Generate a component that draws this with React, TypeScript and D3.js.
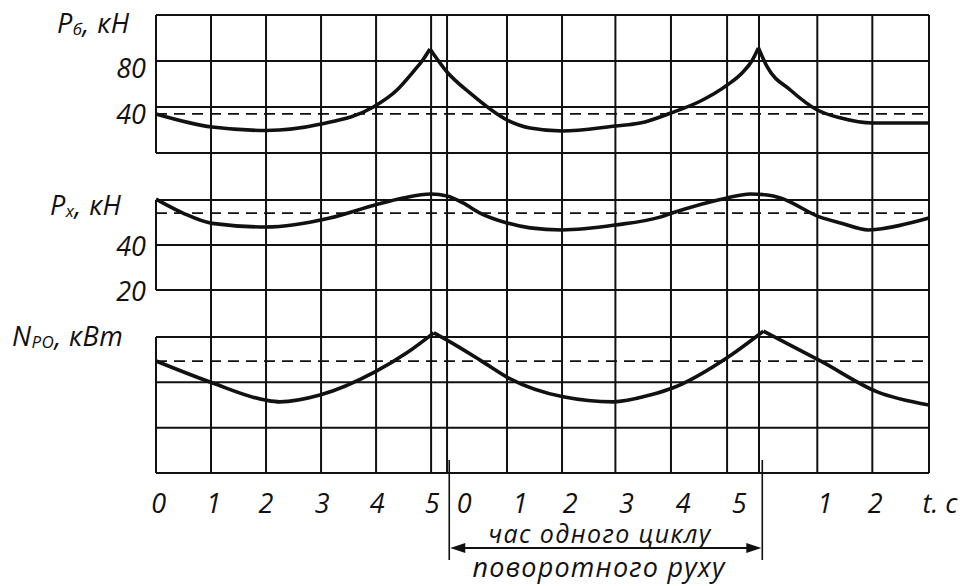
import * as d3 from 'd3';
import React from 'react';

// vertical grid lines, seconds on one continuous time axis
const gridTimes = [0, 1, 2, 3, 4, 5, 5.29, 6.38, 7.38, 8.35, 9.36, 10.38, 10.96, 12.02, 13.02, 14.05];

// time axis labels
const tickText = ['0', '1', '2', '3', '4', '5', '0', '1', '2', '3', '4', '5', '1', '2', 't. c'];
const tickTimes = [0.05, 1.05, 2.0, 3.02, 4.02, 5.02, 5.6, 6.62, 7.53, 8.55, 9.58, 10.6, 12.16, 13.07, 14.25];

// P_б, kN
const pbTimes = [0, 1.02, 2.0, 3.0, 3.95, 4.38, 4.67, 4.85, 4.98, 5.29, 5.71, 6.38, 6.8, 7.38, 8.35, 8.8, 9.36, 9.89, 10.38, 10.67, 10.83, 10.95, 11.11, 11.53, 12.02, 12.45, 13.02, 14.05];
const pbValues = [34, 22.6, 19.6, 25.2, 40, 54.8, 70.4, 80.9, 90.4, 70.4, 52, 28.7, 21.7, 19.1, 23.5, 26, 34.8, 45, 59, 70.5, 80, 91.3, 74.8, 54.8, 37.4, 30.4, 26.1, 26.1];
const pbMean = 34;
const pbGrid = [0, 40, 80, 120];
const pbTicks = [80, 40];

// P_x, kN
const pxTimes = [0, 0.49, 1.02, 2.0, 3.16, 3.98, 4.49, 5.0, 5.29, 5.58, 5.89, 6.38, 6.8, 7.38, 8.35, 9.16, 9.38, 10.38, 10.8, 11.11, 11.35, 12.07, 12.44, 12.95, 13.11, 14.05];
const pxValues = [60.4, 54.2, 49.6, 48, 52, 57.8, 60.9, 62.7, 61.8, 58.7, 54.2, 49.8, 47.6, 46.7, 48.9, 52.4, 54.2, 60.9, 62.7, 62.2, 60.9, 52.4, 49.8, 46.7, 47, 52];
const pxMean = 54.2;
const pxGrid = [20, 40, 60];
const pxTicks = [40, 20];

// N_PO, kW (no scale printed)
const nTimes = [0, 1.02, 1.98, 2.25, 2.98, 3.98, 4.56, 5.05, 5.29, 5.89, 6.4, 7.4, 8.31, 8.98, 9.4, 10.4, 11.04, 12.11, 13.11, 14.05];
const nValues = [2.47, 1.99, 1.61, 1.57, 1.72, 2.23, 2.65, 3.09, 2.93, 2.49, 2.1, 1.68, 1.57, 1.72, 1.88, 2.56, 3.13, 2.45, 1.79, 1.5];
const nMean = 2.47;
const nGrid = [0, 1, 2, 3];

// one swing cycle
const cycleStart = 5.33;
const cycleEnd = 11.02;

const W = 967;
const H = 586;
const FONT = '"Open Sans", "DejaVu Sans", sans-serif';
const INK = '#111';

const x = d3.scaleLinear().domain([0, 14.05]).range([156, 929]);

// split a series at its cusps so the peaks stay sharp
const segments = (times: number[], values: number[], cusps: number[]) => {
  const pts = times.map((t, i) => [t, values[i]] as [number, number]);
  if (!cusps.length) return [pts];
  const out: [number, number][][] = [];
  let start = 0;
  cusps.forEach((c) => {
    out.push(pts.slice(start, c + 1));
    start = c;
  });
  out.push(pts.slice(start));
  return out;
};

const panels = [
  {
    y: d3.scaleLinear().domain([0, 120]).range([153, 15]),
    grid: pbGrid, ticks: pbTicks, tickDy: 17,
    times: pbTimes, values: pbValues, mean: pbMean, cusps: [8, 21],
  },
  {
    y: d3.scaleLinear().domain([20, 60]).range([290, 200]),
    grid: pxGrid, ticks: pxTicks, tickDy: 11,
    times: pxTimes, values: pxValues, mean: pxMean, cusps: [] as number[],
  },
  {
    y: d3.scaleLinear().domain([0, 3]).range([473, 337]),
    grid: nGrid, ticks: [] as number[], tickDy: 0,
    times: nTimes, values: nValues, mean: nMean, cusps: [7, 16],
  },
];

const App = () => {
  const gridTop = panels[0].y(120);
  const gridBottom = panels[2].y(0);
  const arrowY = 548;
  const xs = x(cycleStart);
  const xe = x(cycleEnd);

  return (
    <svg width={W} height={H} style={{ position: 'absolute', left: 0, top: 0, background: '#fff' }}
      fontFamily={FONT} fontStyle="italic" fill={INK}>
      {/* vertical grid lines, full height except the left border */}
      {gridTimes.slice(1).map((t) => (
        <line key={'v' + t} x1={x(t)} x2={x(t)} y1={gridTop} y2={gridBottom} stroke={INK} strokeWidth={2} />
      ))}

      {panels.map((p, i) => {
        const line = d3.line<[number, number]>()
          .x((d) => x(d[0]))
          .y((d) => p.y(d[1]))
          .curve(d3.curveMonotoneX);
        const [lo, hi] = p.y.domain();
        return (
          <g key={i}>
            <line x1={x(0)} x2={x(0)} y1={p.y(hi)} y2={p.y(lo)} stroke={INK} strokeWidth={2} />
            {p.grid.map((v) => (
              <line key={v} x1={x(0)} x2={x(14.05)} y1={p.y(v)} y2={p.y(v)} stroke={INK} strokeWidth={2} />
            ))}
            <line x1={x(0)} x2={x(14.05)} y1={p.y(p.mean)} y2={p.y(p.mean)}
              stroke={INK} strokeWidth={1.8} strokeDasharray="11 7" />
            {segments(p.times, p.values, p.cusps).map((s, j) => (
              <path key={j} d={line(s) || ''} fill="none" stroke={INK} strokeWidth={3.6} strokeLinejoin="round" />
            ))}
            {p.ticks.map((v) => (
              <text key={v} x={146} y={p.y(v) + p.tickDy} fontSize={27} textAnchor="end">{v}</text>
            ))}
          </g>
        );
      })}

      {/* axis titles */}
      <text x={57} y={33} fontSize={27} letterSpacing={0.5}>P<tspan fontSize={17} dy={2}>б</tspan><tspan dy={-2}>, кН</tspan></text>
      <text x={50} y={215} fontSize={27} letterSpacing={0.5}>P<tspan fontSize={17} dy={2}>x</tspan><tspan dy={-2}>, кН</tspan></text>
      <text x={12} y={346} fontSize={27} letterSpacing={0.5}>N<tspan fontSize={17} dy={2}>PO</tspan><tspan dy={-2}>, кВт</tspan></text>

      {/* time labels */}
      {tickText.map((s, i) => (
        <text key={i} x={x(tickTimes[i])} y={513} fontSize={27} textAnchor="middle">{s}</text>
      ))}

      {/* cycle duration */}
      <line x1={xs} x2={xs} y1={460} y2={560} stroke={INK} strokeWidth={1.6} />
      <line x1={xe} x2={xe} y1={460} y2={560} stroke={INK} strokeWidth={1.6} />
      <line x1={xs + 4} x2={xe - 4} y1={arrowY} y2={arrowY} stroke={INK} strokeWidth={1.8} />
      <path d={`M${xs + 1},${arrowY} L${xs + 16},${arrowY - 5} L${xs + 16},${arrowY + 5} Z`} fill={INK} />
      <path d={`M${xe - 1},${arrowY} L${xe - 16},${arrowY - 5} L${xe - 16},${arrowY + 5} Z`} fill={INK} />
      <text x={600} y={543} fontSize={25} letterSpacing={1.4} textAnchor="middle">час одного циклу</text>
      <text x={599} y={577} fontSize={27} letterSpacing={1.2} textAnchor="middle">поворотного руху</text>
    </svg>
  );
};

export default App;
